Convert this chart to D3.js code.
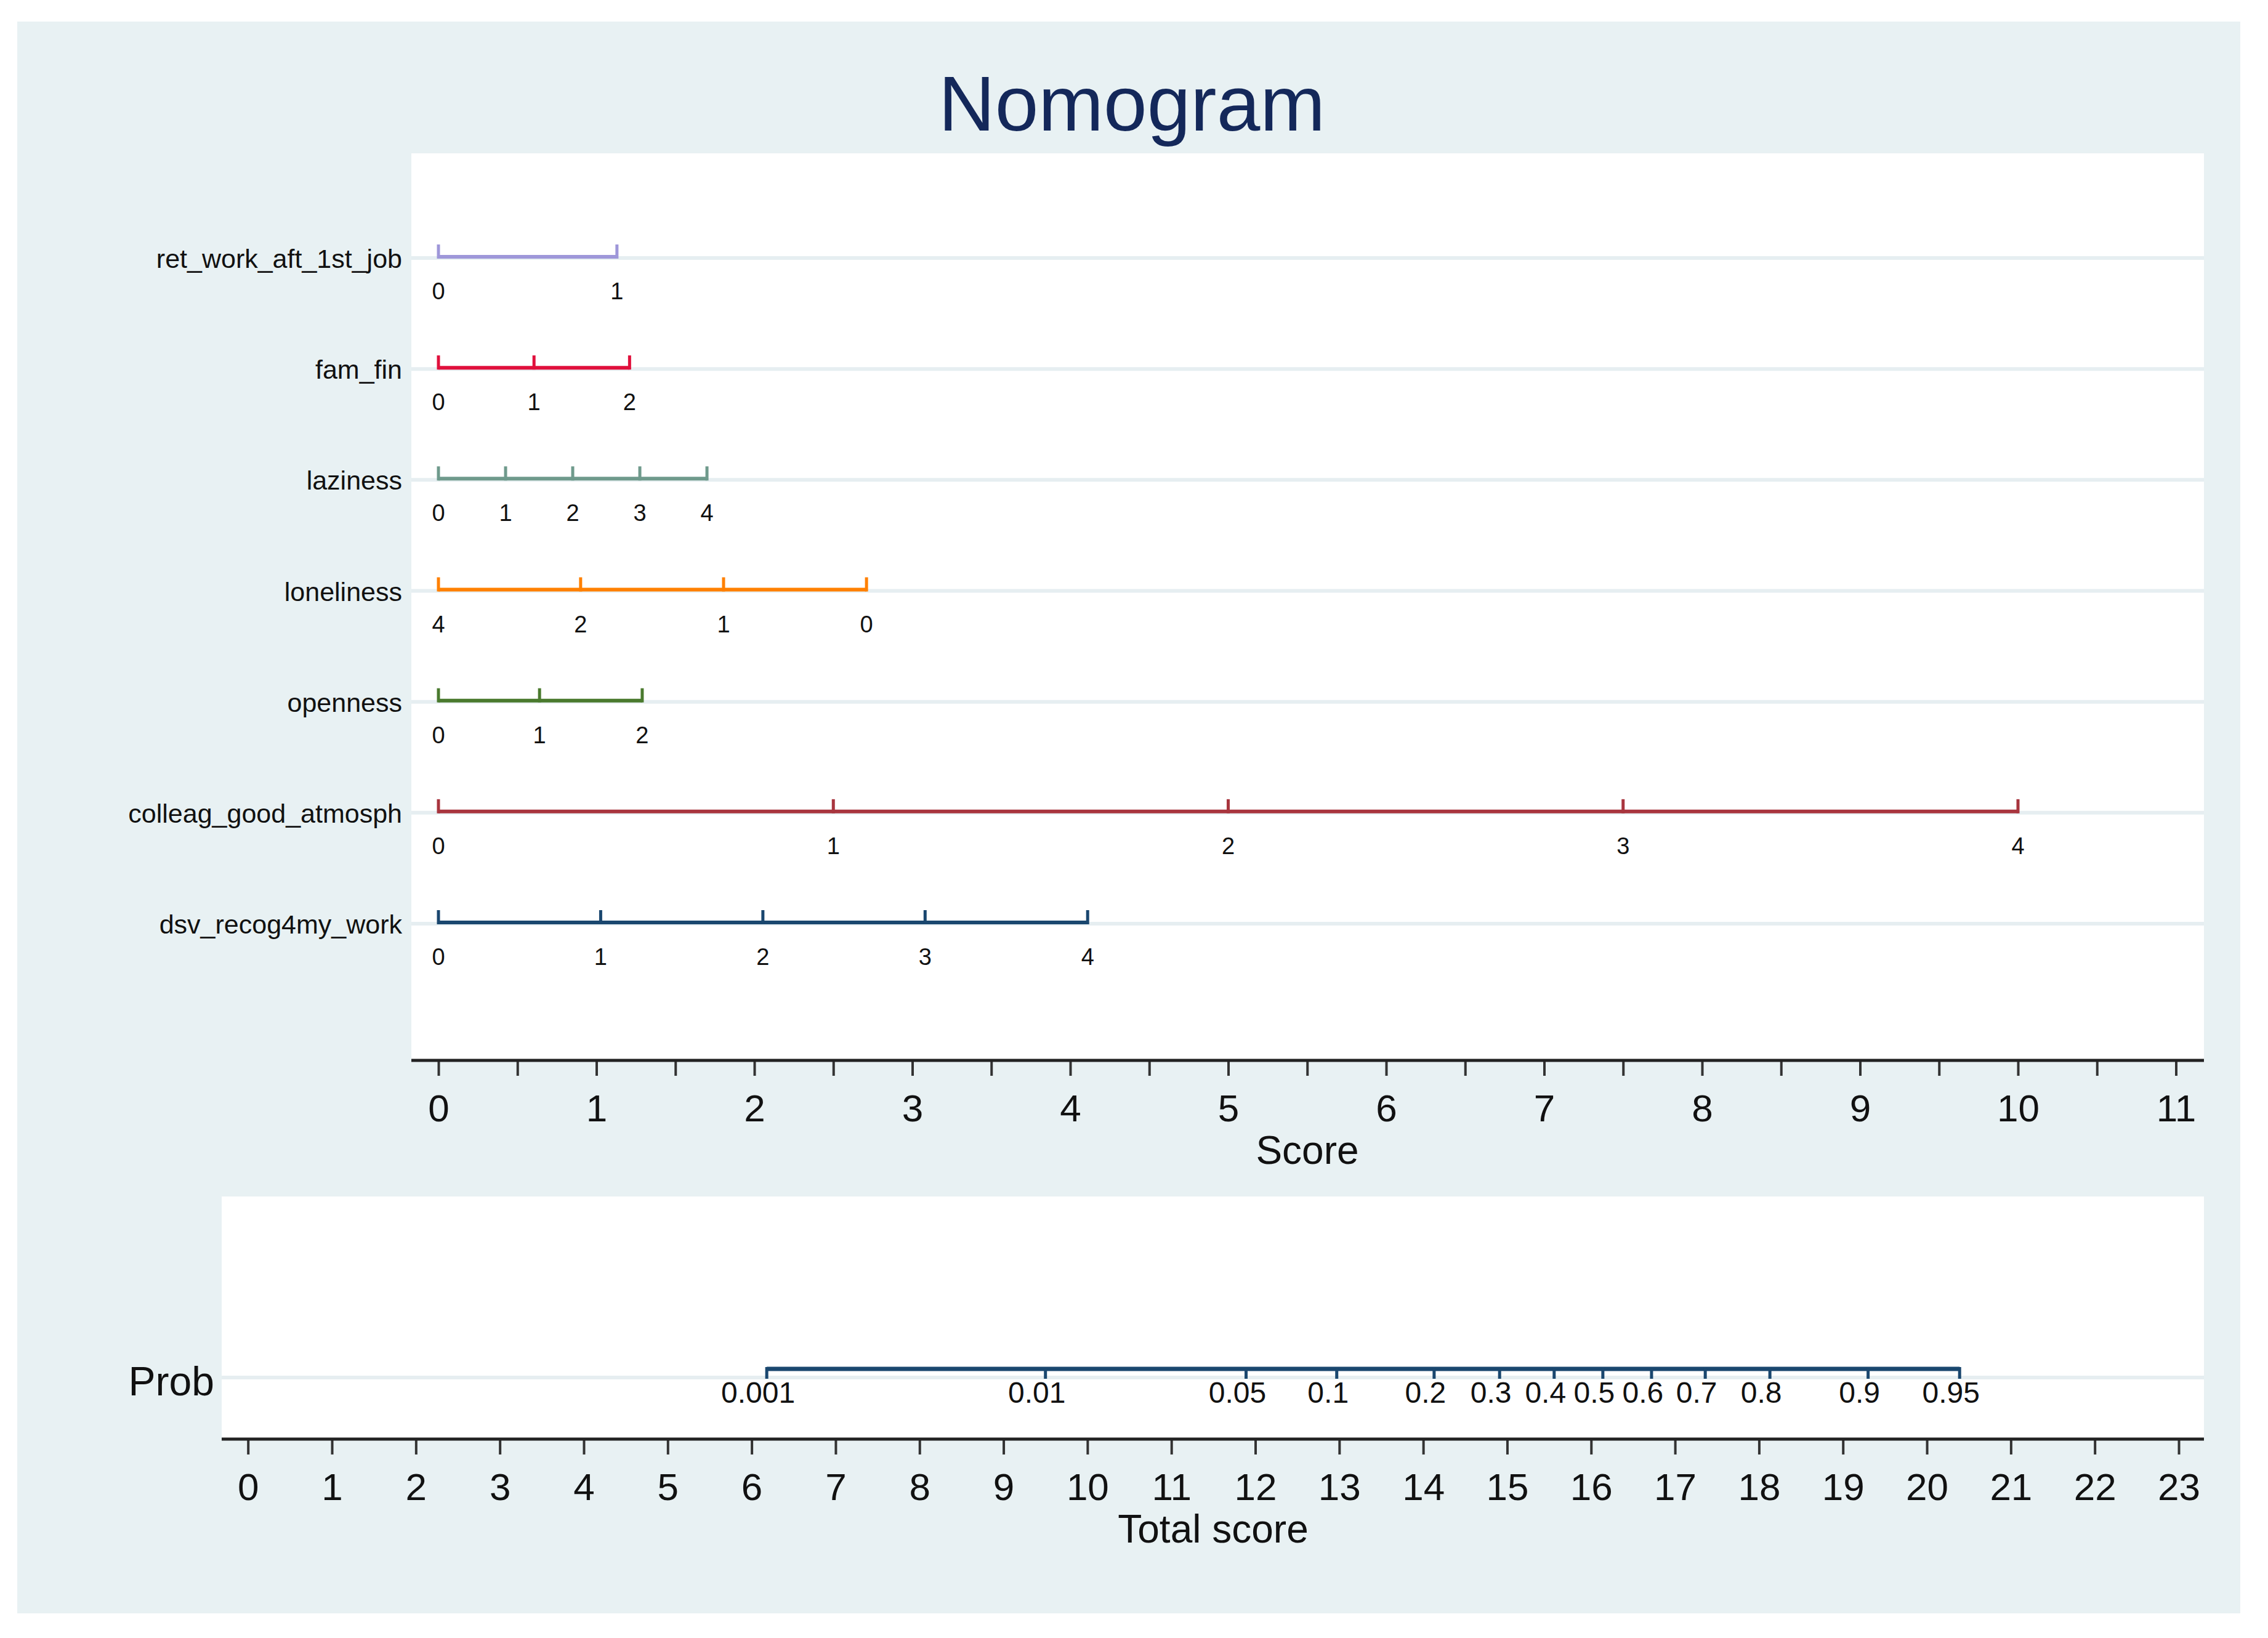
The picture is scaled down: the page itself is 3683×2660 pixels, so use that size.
<!DOCTYPE html>
<html lang="en">
<head>
<meta charset="UTF-8">
<title>Nomogram</title>
<script src="https://d3js.org/d3.v7.min.js"></script>
<style>
  body { margin: 0; background: #fff; }
  text { font-family: "Liberation Sans", Arial, sans-serif; }
</style>
</head>
<body>
<div id="chart"></div>

<script>
// predictor names, shown top to bottom
const varNames = ["ret_work_aft_1st_job", "fam_fin", "laziness", "loneliness",
                  "openness", "colleag_good_atmosph", "dsv_recog4my_work"];
// level labels for each predictor
const varLevels = [
  ["0", "1"],
  ["0", "1", "2"],
  ["0", "1", "2", "3", "4"],
  ["4", "2", "1", "0"],
  ["0", "1", "2"],
  ["0", "1", "2", "3", "4"],
  ["0", "1", "2", "3", "4"]
];
// score (points) of each level
const varScores = [
  [0, 1.13],
  [0, 0.605, 1.21],
  [0, 0.425, 0.85, 1.275, 1.70],
  [0, 0.90, 1.805, 2.71],
  [0, 0.64, 1.29],
  [0, 2.5, 5, 7.5, 10],
  [0, 1.027, 2.054, 3.081, 4.11]
];
const varColors = ["#9e97d9", "#e0103c", "#6f9a8c", "#ff8000", "#4a7a2e", "#a8353e", "#1a476f"];

// probability scale on total score
const probLabels = ["0.001", "0.01", "0.05", "0.1", "0.2", "0.3", "0.4", "0.5", "0.6", "0.7", "0.8", "0.9", "0.95"];
const probTotals = [6.18, 9.50, 11.89, 12.97, 14.13, 14.91, 15.56, 16.14, 16.72, 17.36, 18.13, 19.30, 20.39];

const W = 3683, H = 2660;
const bg = "#e8f1f3";
const grid = "#e6eef1";

const svg = d3.select("#chart").append("svg")
  .attr("width", W)
  .attr("height", H);

// outer graph region
svg.append("rect").attr("x", 28).attr("y", 35).attr("width", 3610).attr("height", 2585).attr("fill", bg);

// title
svg.append("text")
  .attr("x", 1838).attr("y", 212)
  .attr("text-anchor", "middle")
  .attr("font-size", 127)
  .attr("fill", "#14285a")
  .text("Nomogram");

// ---------- upper panel ----------
const upper = { left: 668, right: 3579, top: 249, bottom: 1722 };
svg.append("rect")
  .attr("x", upper.left).attr("y", upper.top)
  .attr("width", upper.right - upper.left).attr("height", upper.bottom - upper.top)
  .attr("fill", "#fff");

const xScore = d3.scaleLinear().domain([0, 11]).range([712, 3533.5]);
const yRow = d3.scalePoint().domain(varNames).range([418, 1499]);

// gridlines
svg.append("g").selectAll("line")
  .data(varNames)
  .enter().append("line")
  .attr("x1", upper.left).attr("x2", upper.right)
  .attr("y1", d => yRow(d) + 1).attr("y2", d => yRow(d) + 1)
  .attr("stroke", grid).attr("stroke-width", 6);

// row labels
svg.append("g").selectAll("text")
  .data(varNames)
  .enter().append("text")
  .attr("x", 653)
  .attr("y", d => yRow(d) + 17)
  .attr("text-anchor", "end")
  .attr("font-size", 43)
  .attr("fill", "#111")
  .text(d => d);

// each predictor scale
varNames.forEach((name, i) => {
  const y = yRow(name) - 1;
  const g = svg.append("g").attr("stroke", varColors[i]);
  const sc = varScores[i];
  g.append("line")
    .attr("x1", xScore(d3.min(sc))).attr("x2", xScore(d3.max(sc)))
    .attr("y1", y).attr("y2", y)
    .attr("stroke-width", 6);
  g.selectAll("line.tk")
    .data(sc)
    .enter().append("line")
    .attr("class", "tk")
    .attr("x1", d => xScore(d)).attr("x2", d => xScore(d))
    .attr("y1", y + 3).attr("y2", y - 20)
    .attr("stroke-width", 5);
  svg.append("g").selectAll("text")
    .data(sc)
    .enter().append("text")
    .attr("x", d => xScore(d))
    .attr("y", y + 69)
    .attr("text-anchor", "middle")
    .attr("font-size", 38)
    .attr("fill", "#111")
    .text((d, j) => varLevels[i][j]);
});

// score axis
const scoreAxis = svg.append("g")
  .attr("transform", `translate(0,${upper.bottom})`)
  .call(d3.axisBottom(xScore)
    .tickValues(d3.range(0, 11.01, 0.5))
    .tickFormat(d => Number.isInteger(d) ? d : "")
    .tickSize(25).tickPadding(30));
scoreAxis.select(".domain").remove();
scoreAxis.selectAll(".tick line").attr("stroke", "#333").attr("stroke-width", 4);
scoreAxis.selectAll(".tick text").attr("font-size", 62).attr("fill", "#111").attr("font-family", null);
svg.append("line")
  .attr("x1", upper.left).attr("x2", upper.right)
  .attr("y1", upper.bottom).attr("y2", upper.bottom)
  .attr("stroke", "#222").attr("stroke-width", 5);
svg.append("text")
  .attr("x", 2123).attr("y", 1890)
  .attr("text-anchor", "middle")
  .attr("font-size", 64)
  .attr("fill", "#111")
  .text("Score");

// ---------- lower panel ----------
const lower = { left: 360, right: 3579, top: 1943, bottom: 2337 };
svg.append("rect")
  .attr("x", lower.left).attr("y", lower.top)
  .attr("width", lower.right - lower.left).attr("height", lower.bottom - lower.top)
  .attr("fill", "#fff");

const xTotal = d3.scaleLinear().domain([0, 23]).range([402.7, 3538]);
const probY = 2223;

svg.append("line")
  .attr("x1", lower.left).attr("x2", lower.right)
  .attr("y1", 2237).attr("y2", 2237)
  .attr("stroke", grid).attr("stroke-width", 6);

svg.append("text")
  .attr("x", 348).attr("y", 2266)
  .attr("text-anchor", "end")
  .attr("font-size", 66)
  .attr("fill", "#111")
  .text("Prob");

const pg = svg.append("g").attr("stroke", "#1a476f");
pg.append("line")
  .attr("x1", xTotal(d3.min(probTotals))).attr("x2", xTotal(d3.max(probTotals)))
  .attr("y1", probY).attr("y2", probY)
  .attr("stroke-width", 7);
pg.selectAll("line.tk")
  .data(probTotals)
  .enter().append("line")
  .attr("class", "tk")
  .attr("x1", d => xTotal(d)).attr("x2", d => xTotal(d))
  .attr("y1", probY - 3).attr("y2", probY + 16)
  .attr("stroke-width", 5);
svg.append("g").selectAll("text")
  .data(probTotals)
  .enter().append("text")
  .attr("x", d => xTotal(d) - 14)
  .attr("y", 2278)
  .attr("text-anchor", "middle")
  .attr("font-size", 48)
  .attr("fill", "#111")
  .text((d, i) => probLabels[i]);

// total score axis
const totalAxis = svg.append("g")
  .attr("transform", `translate(0,${lower.bottom})`)
  .call(d3.axisBottom(xTotal)
    .tickValues(d3.range(0, 24))
    .tickSize(25).tickPadding(30));
totalAxis.select(".domain").remove();
totalAxis.selectAll(".tick line").attr("stroke", "#333").attr("stroke-width", 4);
totalAxis.selectAll(".tick text").attr("font-size", 62).attr("fill", "#111").attr("font-family", null);
svg.append("line")
  .attr("x1", lower.left).attr("x2", lower.right)
  .attr("y1", lower.bottom).attr("y2", lower.bottom)
  .attr("stroke", "#222").attr("stroke-width", 5);
svg.append("text")
  .attr("x", 1970).attr("y", 2505)
  .attr("text-anchor", "middle")
  .attr("font-size", 64)
  .attr("fill", "#111")
  .text("Total score");
</script>
</body>
</html>
